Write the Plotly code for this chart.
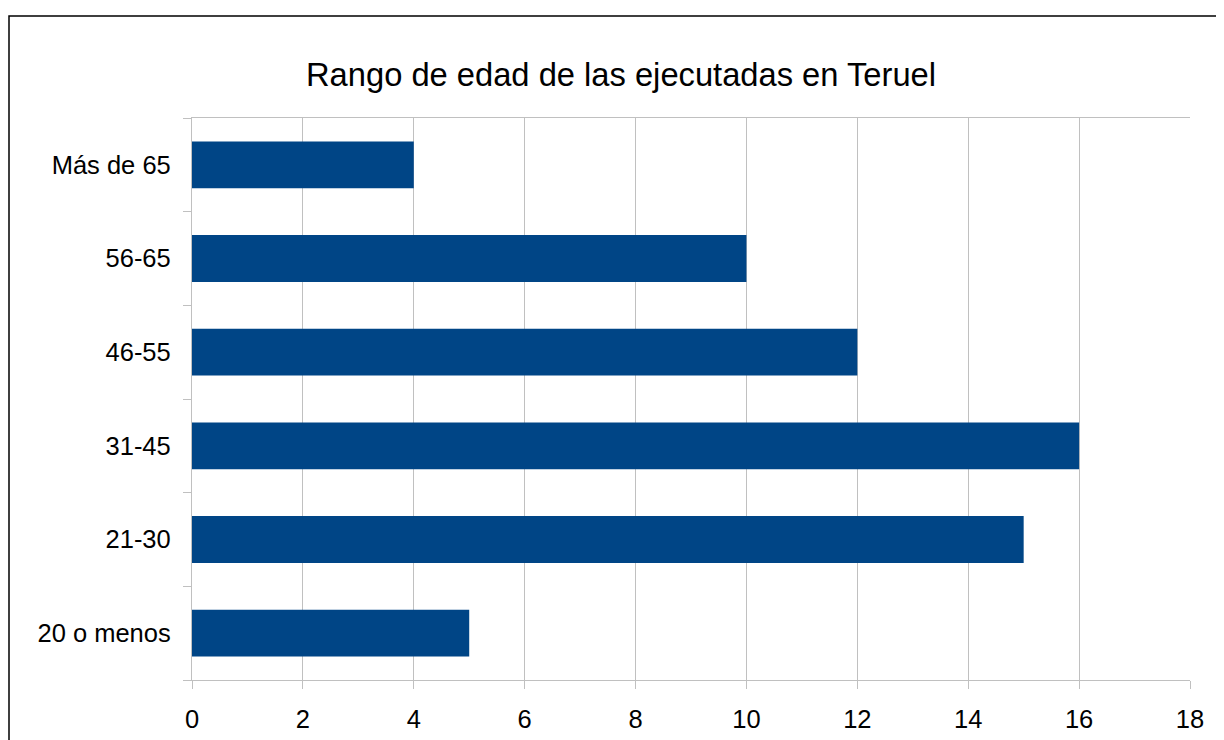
import plotly.graph_objects as go

categories = ["20 o menos", "21-30", "31-45", "46-55", "56-65", "Más de 65"]
values = [5, 15, 16, 12, 10, 4]
x_ticks = [0, 2, 4, 6, 8, 10, 12, 14, 16, 18]

# page has an 8px body margin, so figure coordinates = screen - 8
OFF = 8
W, H = 1224, 740
L, R, T, B = 192 - OFF, 1224 - (1190 - OFF), 118 - OFF, H - (680 - OFF)
pw, ph = W - L - R, H - T - B

def px_x(p):
    return (p - OFF - L) / pw

def px_y(p):
    return (H - B - (p - OFF)) / ph

GRID = "#c0c0c0"

fig = go.Figure(go.Bar(
    x=values, y=categories, orientation="h",
    marker=dict(color="#004586", line=dict(width=0)),
))

fig.update_layout(
    width=W, height=H,
    margin=dict(l=L, r=R, t=T, b=B),
    paper_bgcolor="white", plot_bgcolor="white",
    bargap=0.5,
    showlegend=False,
    font=dict(family="Liberation Sans, Arial, sans-serif", color="black", size=25.5),
    title=dict(text="Rango de edad de las ejecutadas en Teruel",
               x=(621 - OFF) / W, xref="container", xanchor="center",
               y=1 - (75 - OFF) / H, yref="container", yanchor="middle",
               font=dict(size=32.7, color="black")),
    xaxis=dict(range=[0, 18], tickvals=x_ticks, showgrid=True, gridcolor=GRID, gridwidth=1.3,
               showline=True, linecolor=GRID, linewidth=1.3, mirror=True,
               ticks="outside", ticklen=8, tickcolor=GRID, tickwidth=1.3,
               tickfont=dict(size=25.5, color="black"),
               ticklabelstandoff=8, zeroline=False, fixedrange=True),
    yaxis=dict(categoryorder="array", categoryarray=categories,
               showgrid=False, showline=True, linecolor=GRID, linewidth=1.3,
               ticks="outside", tickson="boundaries", ticklen=8, tickcolor=GRID, tickwidth=1.3,
               tickfont=dict(size=25.5, color="black"),
               ticklabelstandoff=15, zeroline=False, fixedrange=True),
    shapes=[dict(type="rect", xref="paper", yref="paper",
                 x0=px_x(9), x1=px_x(W + 40), y0=px_y(H + 40), y1=px_y(16),
                 line=dict(color="black", width=1.5), fillcolor="rgba(0,0,0,0)", layer="above")],
)

fig.write_html("out.html")
